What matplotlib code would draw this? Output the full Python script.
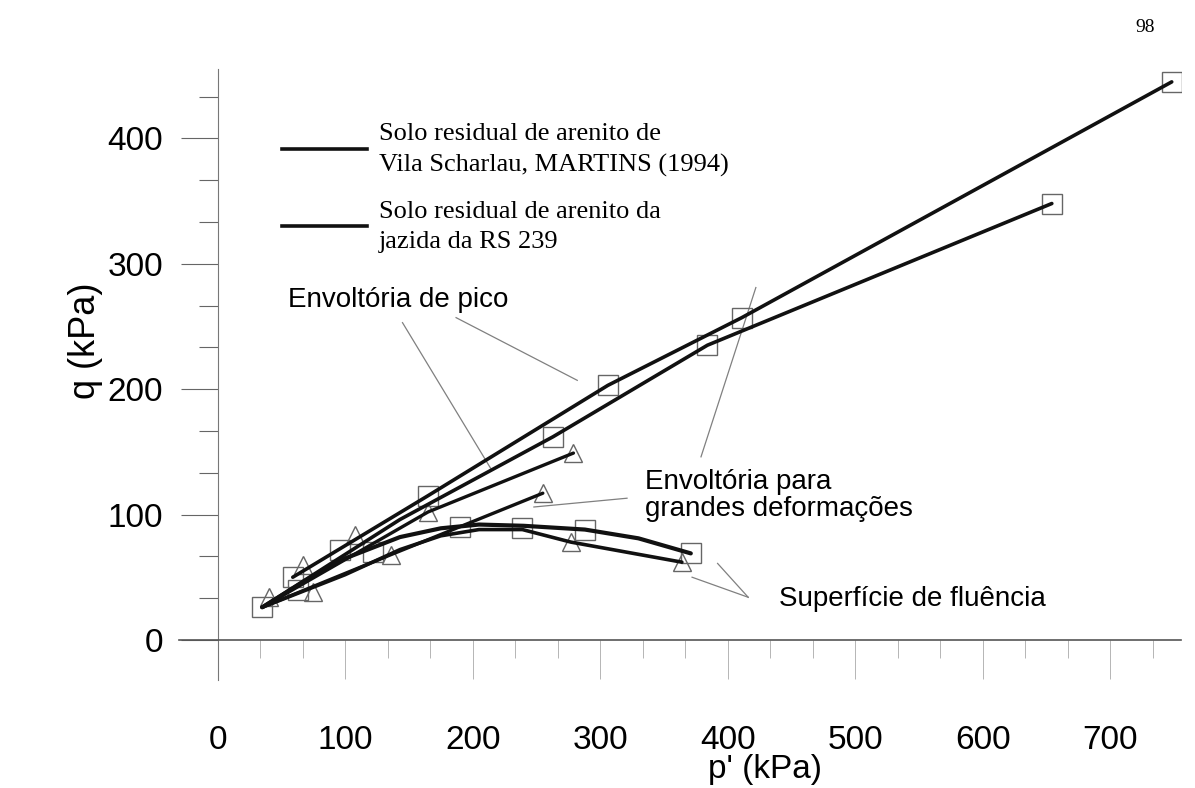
import numpy as np
import matplotlib.pyplot as plt
from matplotlib.lines import Line2D
from matplotlib.ticker import MultipleLocator

# =========================
# dados (p' e q em kPa)
# =========================

# envoltorias de pico
pico1_p = [59, 165, 306, 411, 748]
pico1_q = [50, 115, 203, 257, 445]
pico2_p = [35, 143, 263, 384, 654]
pico2_q = [26, 96, 162, 235, 348]

# envoltorias para grandes deformacoes
grandes1_p = [35, 165, 279]
grandes1_q = [26, 102, 149]
grandes2_p = [35, 136, 255]
grandes2_q = [26, 68, 117]

# superficies de fluencia
fluencia1_p = [35, 70, 100, 143, 175, 205, 240, 288, 330, 371]
fluencia1_q = [26, 48, 65, 82, 89, 92, 91, 88, 81, 69]
fluencia2_p = [35, 100, 143, 175, 205, 239, 277, 364]
fluencia2_q = [26, 52, 72, 83, 88, 88, 78, 62]

# pontos ensaiados
quad_p = [35, 59, 63, 96, 122, 165, 190, 239, 263, 288, 306, 371, 384, 411, 654, 748]
quad_q = [26, 50, 40, 72, 70, 115, 90, 89, 162, 88, 203, 69, 235, 257, 348, 445]
tri_p = [40, 67, 75, 108, 136, 165, 255, 279, 277, 364]
tri_q = [34, 60, 38, 84, 68, 102, 117, 149, 78, 62]

legenda = ["Solo residual de arenito de\nVila Scharlau, MARTINS (1994)",
           "Solo residual de arenito da\njazida da RS 239"]

# =========================
# figura
# =========================

fig = plt.figure(figsize=(11.95, 7.88), dpi=100)
ax = fig.add_axes([0.150, 0.137, 0.838, 0.775])

cor_linha = "#111111"
cor_marc = "#666666"
cor_guia = "#808080"

for p, q, lw in [(pico1_p, pico1_q, 2.6), (pico2_p, pico2_q, 2.6),
                 (grandes1_p, grandes1_q, 2.4), (grandes2_p, grandes2_q, 2.4),
                 (fluencia1_p, fluencia1_q, 3.0), (fluencia2_p, fluencia2_q, 2.6)]:
    ax.plot(p, q, color=cor_linha, lw=lw, solid_capstyle="round",
            solid_joinstyle="round", zorder=3)

ax.plot(quad_p, quad_q, ls="none", marker="s", ms=14, mfc="none",
        mec=cor_marc, mew=1.0, zorder=2)
ax.plot(tri_p, tri_q, ls="none", marker="^", ms=13, mfc="none",
        mec=cor_marc, mew=1.0, zorder=2)

# linhas de chamada
guias = [
    ([145, 214], [253, 137]),
    ([187, 282], [257, 207]),
    ([422, 379], [281, 146]),
    ([248, 321], [106, 113]),
    ([392, 416], [61, 34]),
    ([372, 416], [50, 34]),
]
for gp, gq in guias:
    ax.plot(gp, gq, color=cor_guia, lw=0.9, zorder=1)

fonte_txt = "Liberation Sans"
ax.text(55, 271, "Envoltória de pico", fontsize=20, family=fonte_txt,
        va="center", ha="left")
ax.text(335, 115, "Envoltória para\ngrandes deformações", fontsize=20,
        family=fonte_txt, va="center", ha="left", linespacing=1.05)
ax.text(440, 33, "Superfície de fluência", fontsize=20, family=fonte_txt,
        va="center", ha="left")

# legenda
handles = [Line2D([0], [0], color=cor_linha, lw=2.6) for _ in legenda]
leg = ax.legend(handles, legenda, loc="upper left",
                bbox_to_anchor=(269 / 1195, 1 - 110 / 788),
                bbox_transform=fig.transFigure, frameon=False, borderpad=0,
                handlelength=3.2, handletextpad=0.45, labelspacing=0.9,
                prop={"family": "Liberation Serif", "size": 19})
for t in leg.get_texts():
    t.set_linespacing(1.5)

# =========================
# eixos
# =========================

ax.set_xlim(-30, 755)
ax.set_ylim(-32, 455)
ax.spines["top"].set_visible(False)
ax.spines["right"].set_visible(False)
ax.spines["left"].set_position(("data", 0))
ax.spines["bottom"].set_position(("data", 0))
ax.spines["left"].set_color("#777777")
ax.spines["bottom"].set_color("#555555")
ax.spines["left"].set_linewidth(0.8)
ax.spines["bottom"].set_linewidth(1.2)

ax.xaxis.set_minor_locator(MultipleLocator(100 / 3))
ax.yaxis.set_minor_locator(MultipleLocator(100 / 3))
ax.set_xticks(np.arange(0, 701, 100))
ax.set_yticks(np.arange(0, 401, 100))

ax.tick_params(axis="y", which="major", direction="out", length=27, width=0.8,
               color="#666666", labelsize=24, pad=12)
ax.tick_params(axis="y", which="minor", direction="out", length=14, width=0.8,
               color="#666666")
ax.tick_params(axis="x", which="major", direction="out", length=28, width=0.6,
               color="#aaaaaa", labelsize=24, pad=33)
ax.tick_params(axis="x", which="minor", direction="out", length=13, width=0.6,
               color="#aaaaaa")
for lab in ax.get_xticklabels() + ax.get_yticklabels():
    lab.set_family(fonte_txt)

ax.set_xlabel("p' (kPa)", fontsize=24, family=fonte_txt)
ax.set_ylabel("q (kPa)", fontsize=26, family=fonte_txt)
ax.yaxis.set_label_coords(-0.076, 0.556)
ax.xaxis.set_label_coords(0.585, -0.121)

fig.text(1145 / 1195, 1 - 28 / 788, "98", fontsize=14,
         family="Liberation Serif", ha="center", va="center")

fig.savefig("out.png", dpi=100)
